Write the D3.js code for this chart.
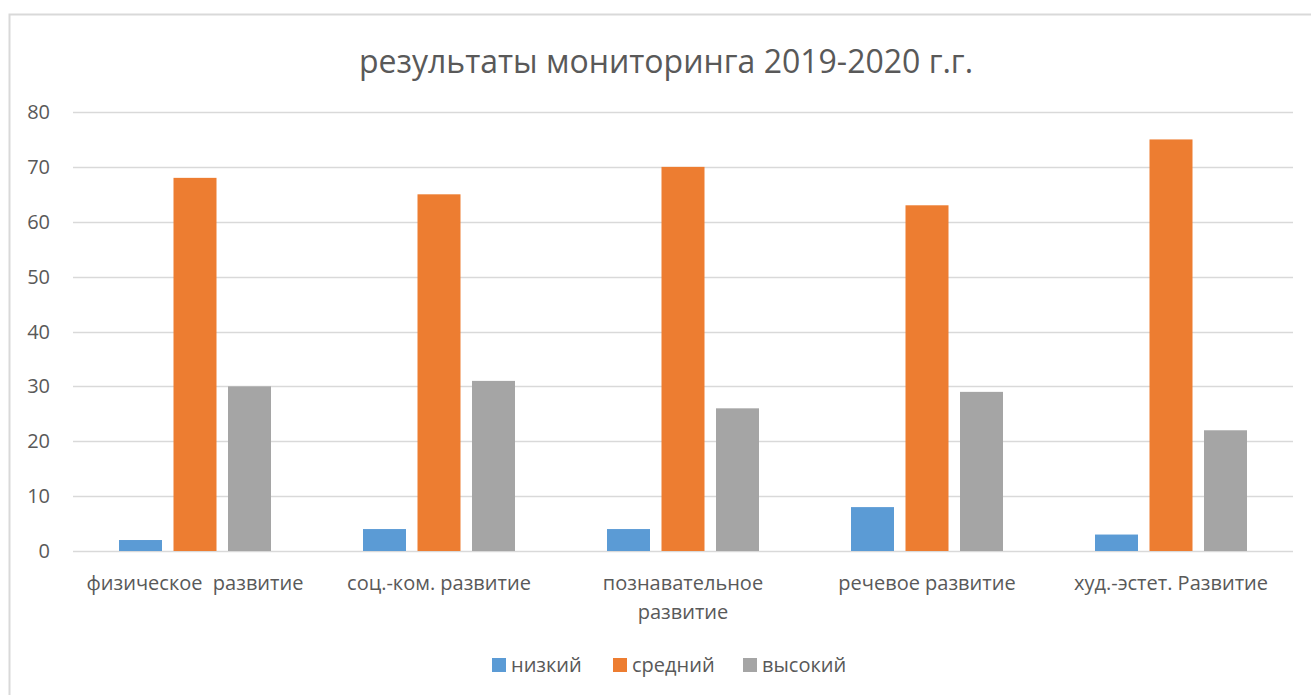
<!DOCTYPE html>
<html>
<head>
<meta charset="utf-8">
<script src="https://cdn.jsdelivr.net/npm/d3@7"></script>
<style>
  body { margin: 0; background: #fff; }
  text { font-family: "Open Sans", "DejaVu Sans", sans-serif; fill: #595959; }
</style>
</head>
<body>
<div id="chart"></div>
<script>
// данные мониторинга
const categories = ["физическое  развитие", "соц.-ком. развитие", "познавательное развитие", "речевое развитие", "худ.-эстет. Развитие"];
const seriesNames = ["низкий", "средний", "высокий"];
const low = [2, 4, 4, 8, 3];
const mid = [68, 65, 70, 63, 75];
const high = [30, 31, 26, 29, 22];
const yTicks = [0, 10, 20, 30, 40, 50, 60, 70, 80];
const colors = ["#5b9bd5", "#ed7d31", "#a5a5a5"];

const W = 1311, H = 695;
const plot = { left: 73, right: 1293, top: 112, bottom: 551 };

const svg = d3.select("#chart").append("svg")
  .attr("width", W).attr("height", H);

// рамка диаграммы
svg.append("rect")
  .attr("x", 9.5).attr("y", 14.5)
  .attr("width", W).attr("height", H)
  .attr("fill", "none").attr("stroke", "#d9d9d9").attr("stroke-width", 2);

svg.append("text")
  .attr("x", 666).attr("y", 73)
  .attr("text-anchor", "middle")
  .style("font-size", "32px")
  .text("результаты мониторинга 2019-2020 г.г.");

const x = d3.scaleBand().domain(categories).range([plot.left, plot.right]);
const y = d3.scaleLinear().domain([0, 80]).range([plot.bottom, plot.top]);

// сетка
svg.append("g")
  .selectAll("line")
  .data(yTicks)
  .join("line")
  .attr("x1", plot.left).attr("x2", plot.right)
  .attr("y1", d => Math.round(y(d)) + 0.5).attr("y2", d => Math.round(y(d)) + 0.5)
  .attr("stroke", "#d9d9d9").attr("stroke-width", 1.5);

svg.append("g")
  .selectAll("text")
  .data(yTicks)
  .join("text")
  .attr("x", 50).attr("y", d => y(d))
  .attr("dy", "0.35em")
  .attr("text-anchor", "end")
  .style("font-size", "20px")
  .text(d => d);

// столбцы
const rows = categories.map((c, i) => ({ cat: c, vals: [low[i], mid[i], high[i]] }));
const barW = 43, step = 54.5;
const inner = d3.scaleBand().domain(seriesNames).range([0, step * 3]);

const groups = svg.append("g")
  .selectAll("g")
  .data(rows)
  .join("g")
  .attr("transform", d => `translate(${x(d.cat) + x.bandwidth() / 2 - step * 1.5 + (step - barW) / 2},0)`);

groups.selectAll("rect")
  .data(d => d.vals.map((v, k) => ({ name: seriesNames[k], v, k })))
  .join("rect")
  .attr("x", d => inner(d.name))
  .attr("y", d => y(d.v))
  .attr("width", barW)
  .attr("height", d => y(0) - y(d.v))
  .attr("fill", d => colors[d.k]);

// подписи категорий
const catLines = {
  "познавательное развитие": ["познавательное", "развитие"]
};
svg.append("g")
  .selectAll("text")
  .data(categories)
  .join("text")
  .attr("x", d => x(d) + x.bandwidth() / 2)
  .attr("y", 590)
  .attr("text-anchor", "middle")
  .style("font-size", "20px")
  .style("white-space", "pre")
  .each(function (d) {
    const lines = catLines[d] || [d];
    d3.select(this).selectAll("tspan")
      .data(lines)
      .join("tspan")
      .attr("x", x(d) + x.bandwidth() / 2)
      .attr("dy", (l, i) => i ? 29 : 0)
      .text(l => l);
  });

// легенда
const legendX = [492, 613, 743];
const legend = svg.append("g")
  .selectAll("g")
  .data(seriesNames)
  .join("g")
  .attr("transform", (d, i) => `translate(${legendX[i]},665)`);
legend.append("rect")
  .attr("x", 0).attr("y", -7).attr("width", 14).attr("height", 14)
  .attr("fill", (d, i) => colors[i]);
legend.append("text")
  .attr("x", 19).attr("dy", "0.35em")
  .style("font-size", "20px")
  .text(d => d);
</script>
</body>
</html>
